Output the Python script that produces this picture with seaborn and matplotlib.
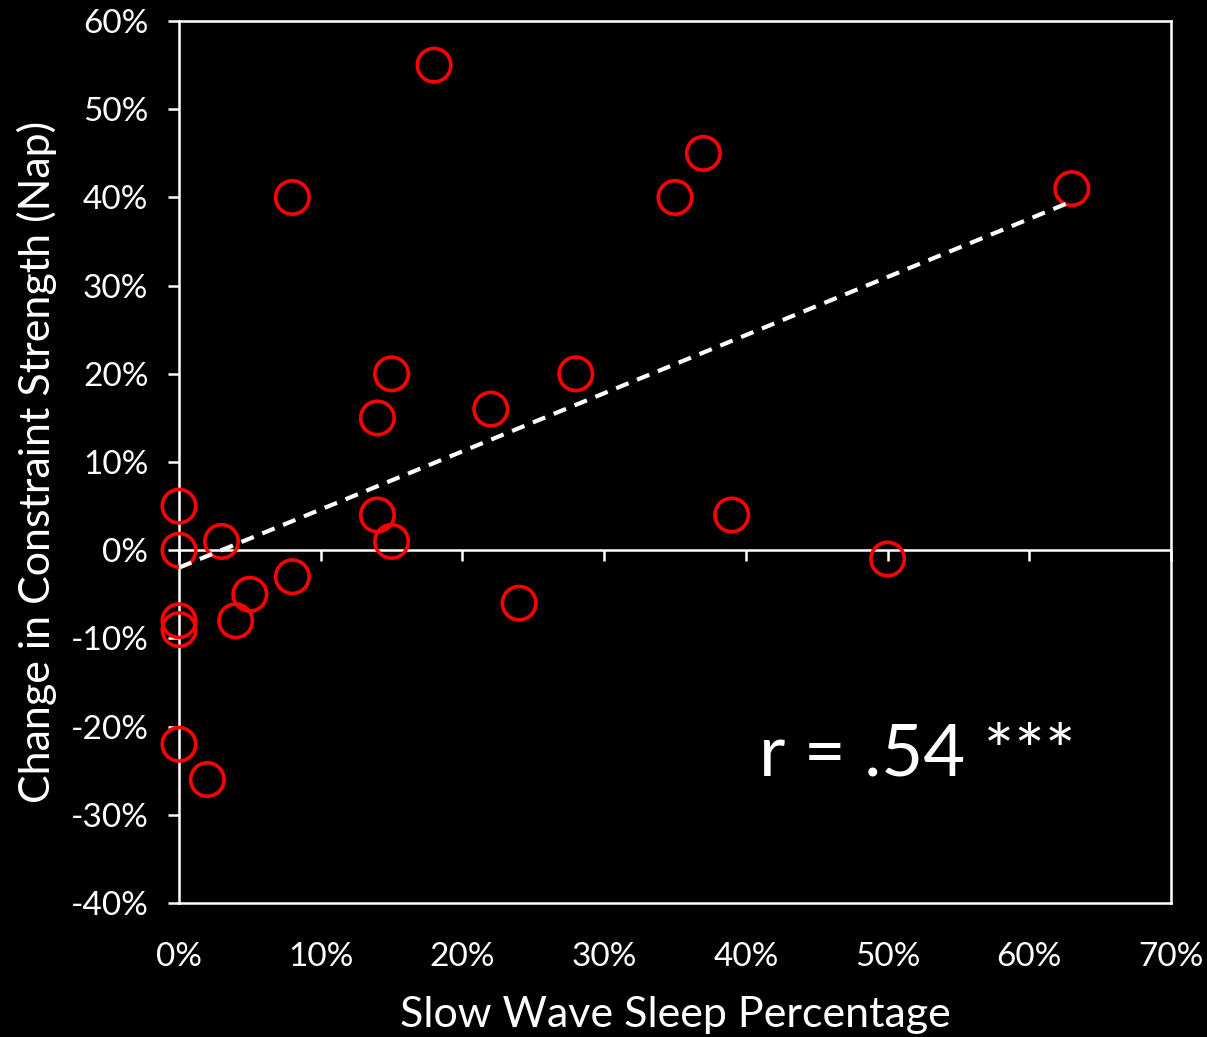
import numpy as np
import pandas as pd
import matplotlib
matplotlib.use("Agg")
import matplotlib.pyplot as plt
import seaborn as sns
from matplotlib.ticker import PercentFormatter, MultipleLocator

# slow wave sleep % vs change in constraint strength %
sws = [18, 8, 37, 35, 63, 15, 28, 14, 22, 0, 14, 39, 0, 3, 15, 50,
       8, 5, 24, 4, 0, 0, 0, 2]
change = [55, 40, 45, 40, 41, 20, 20, 15, 16, 5, 4, 4, 0, 1, 1, -1,
          -3, -5, -6, -8, -8, -9, -22, -26]
r_text = "r = .54 ***"
x_label = "Slow Wave Sleep Percentage"
y_label = "Change in Constraint Strength (Nap)"

df = pd.DataFrame({"SWS": sws, "Change": change})

sns.set_style("dark")
plt.rcParams["font.family"] = ["Lato", "DejaVu Sans"]
plt.rcParams["axes.unicode_minus"] = False

fig = plt.figure(figsize=(12.07, 10.37), dpi=100, facecolor="black")
ax = fig.add_axes([0.1483, 0.1292, 0.8219, 0.8505])
ax.set_facecolor("black")

sns.scatterplot(data=df, x="SWS", y="Change", ax=ax, s=580, marker="o",
                facecolor="none", edgecolor="red", linewidth=2.6, zorder=3,
                clip_on=False)
sns.regplot(data=df, x="SWS", y="Change", ax=ax, scatter=False, ci=None,
            line_kws={"color": "white", "lw": 3, "ls": (0, (3.2, 2.2)),
                      "zorder": 4})

ax.set_xlim(0, 70)
ax.set_ylim(-40, 60)
ax.xaxis.set_major_locator(MultipleLocator(10))
ax.yaxis.set_major_locator(MultipleLocator(10))
ax.xaxis.set_major_formatter(PercentFormatter(decimals=0))
ax.yaxis.set_major_formatter(PercentFormatter(decimals=0))

for sp in ax.spines.values():
    sp.set_color("white")
    sp.set_linewidth(1.8)
    sp.set_visible(True)

ax.axhline(0, color="white", lw=1.8, zorder=2)
sec = ax.secondary_xaxis(0.4)
sec.spines["bottom"].set_visible(False)
sec.tick_params(axis="x", direction="out", length=8, width=1.8,
                color="white", labelbottom=False)
sec.xaxis.set_major_locator(MultipleLocator(10))

ax.tick_params(axis="x", length=0, pad=28, labelsize=24, colors="white")
ax.tick_params(axis="y", direction="out", length=8, width=1.8, pad=14,
               labelsize=24, colors="white", left=True)
ax.grid(False)

ax.set_xlabel(x_label, fontsize=31, color="white", labelpad=17)
ax.set_ylabel(y_label, fontsize=31, color="white", labelpad=10)

ax.text(0.744, 0.168, r_text, transform=ax.transAxes, fontsize=52,
        color="white", ha="center", va="center")

fig.savefig("out.png", dpi=100, facecolor="black")
